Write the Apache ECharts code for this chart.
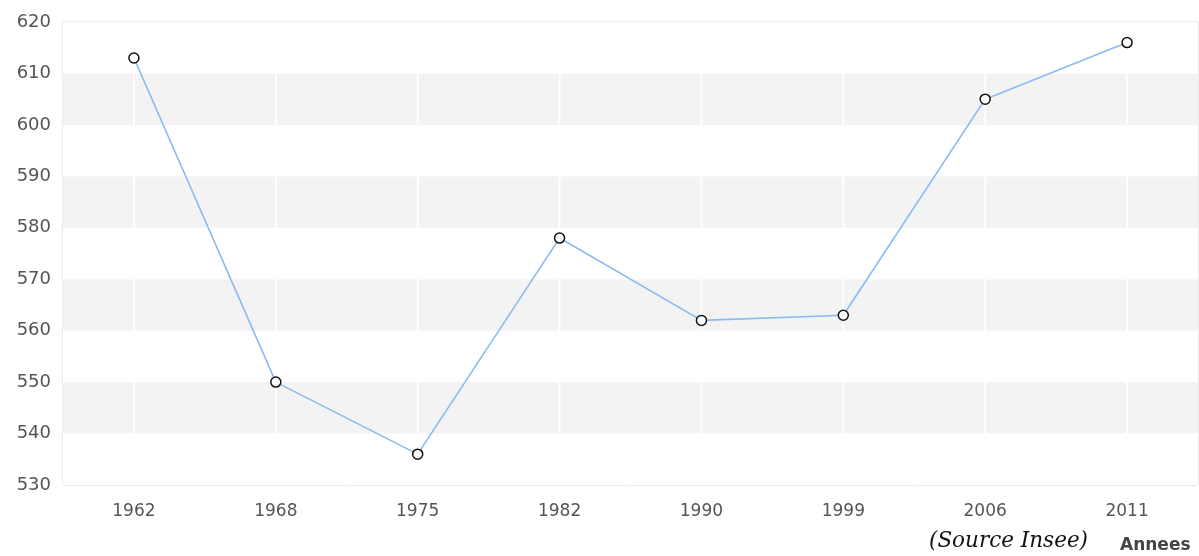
<!DOCTYPE html>
<html><head><meta charset="utf-8">
<script src="https://cdn.jsdelivr.net/npm/echarts@6/dist/echarts.min.js"></script>
<style>html,body{margin:0;padding:0;background:#fff}#c{width:1199px;height:556px}</style>
</head><body><div id="c"></div>
<script>
const years = ['1962','1968','1975','1982','1990','1999','2006','2011'];
const population = [613, 550, 536, 578, 562, 563, 605, 616];
const yMin = 530, yMax = 620, yStep = 10;
const chart = echarts.init(document.getElementById('c'));
chart.setOption({
  animation: false,
  backgroundColor: '#fff',
  grid: {left: 63, right: 1, top: 22, bottom: 71, show: true, borderColor: '#d8d8d8', borderWidth: 1, backgroundColor: 'transparent'},
  xAxis: {
    type: 'category', data: years, boundaryGap: true,
    axisLine: {show: false}, axisTick: {show: false},
    axisLabel: {color: '#555', fontSize: 17, fontFamily: 'DejaVu Sans', margin: 18, interval: 0},
    splitLine: {show: false}
  },
  yAxis: {
    type: 'value', min: yMin, max: yMax, interval: yStep,
    axisLine: {show: false}, axisTick: {show: false},
    axisLabel: {color: '#555', fontSize: 18, fontFamily: 'DejaVu Sans', margin: 12},
    splitLine: {show: false},
    splitArea: {show: true, areaStyle: {color: ['#ffffff', '#f3f3f3']}}
  },
  graphic: [
    {type: 'text', left: 929, top: 530, style: {text: '(Source Insee)', font: 'italic 21.5px "DejaVu Serif", serif', fill: '#111'}},
    {type: 'text', left: 1120, top: 537, style: {text: 'Annees', font: 'bold 17px "DejaVu Sans", sans-serif', fill: '#444'}}
  ],
  series: [
    {type: 'line', data: population, symbol: 'circle', symbolSize: 10, z: 3,
     lineStyle: {color: '#88bbf0', width: 1.6},
     itemStyle: {color: '#fff', borderColor: '#111', borderWidth: 1.5}},
    {type: 'bar', data: years.map(() => yMax), barWidth: 2, barGap: '-100%', silent: true, z: 1,
     itemStyle: {color: 'rgba(255,255,255,0.9)'}}
  ]
});
</script></body></html>
